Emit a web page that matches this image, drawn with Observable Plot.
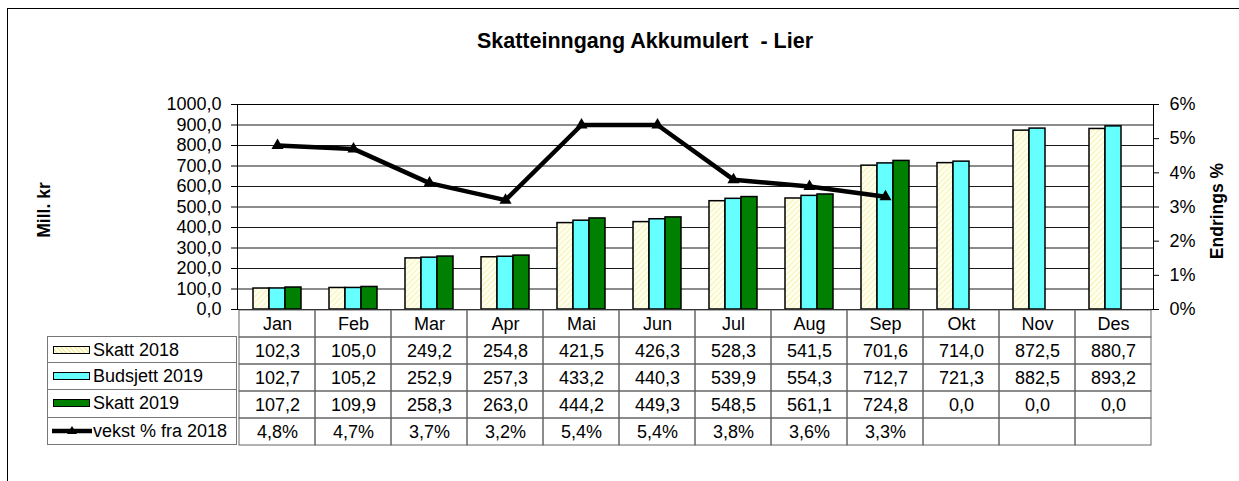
<!DOCTYPE html>
<html><head><meta charset="utf-8">
<script src="https://cdn.jsdelivr.net/npm/d3@7"></script>
<script src="https://cdn.jsdelivr.net/npm/@observablehq/plot@0.6"></script>
<style>
body{margin:0;background:#fff;font-family:"Liberation Sans",Arial,sans-serif;}
#wrap{position:relative;width:1239px;height:481px;overflow:hidden;background:#fff;}
#border{position:absolute;left:7px;top:8px;width:1260px;height:500px;border:1px solid #000;box-sizing:border-box;}
.layer{position:absolute;left:0;top:0;}
#title{position:absolute;left:0;width:1290px;top:29px;text-align:center;font-weight:bold;font-size:21.5px;white-space:pre;}
.rot{position:absolute;transform:translate(-50%,-50%) rotate(-90deg);font-weight:bold;font-size:17.5px;white-space:pre;}
#legend{position:absolute;left:47px;top:336px;width:190px;}
.lrow{position:relative;height:27.2px;box-sizing:border-box;border:1px solid #777;border-top:none;font-size:18px;}
.lrow:first-child{border-top:1px solid #777;}
.sw{position:absolute;left:5px;top:9px;width:37px;height:8px;box-sizing:border-box;border:1.5px solid #000;}
.lt{position:absolute;left:45px;top:3px;}
</style></head>
<body>
<div id="wrap">
  <div id="border"></div>
  <div id="title">Skatteinngang Akkumulert  - Lier</div>
  <div class="rot" style="left:44px;top:210px;">Mill. kr</div>
  <div class="rot" style="left:1217px;top:211px;">Endrings %</div>
  <div id="layers"></div>
  <div id="legend"></div>
</div>
<script>
// ---- data ----
const months = ["Jan","Feb","Mar","Apr","Mai","Jun","Jul","Aug","Sep","Okt","Nov","Des"];
const seriesNames = ["Skatt 2018","Budsjett 2019","Skatt 2019"];
const skatt2018 = [102.3,105.0,249.2,254.8,421.5,426.3,528.3,541.5,701.6,714.0,872.5,880.7];
const budsjett2019 = [102.7,105.2,252.9,257.3,433.2,440.3,539.9,554.3,712.7,721.3,882.5,893.2];
const skatt2019 = [107.2,109.9,258.3,263.0,444.2,449.3,548.5,561.1,724.8,0.0,0.0,0.0];
const vekstName = "vekst % fra 2018";
const vekst = [4.8,4.7,3.7,3.2,5.4,5.4,3.8,3.6,3.3];
const leftTicks = [0,100,200,300,400,500,600,700,800,900,1000];
const rightTicks = [0,1,2,3,4,5,6];
const seriesColors = ["url(#hatch18)","#66FFFF","#008000"];

// ---- helpers ----
const fmt1 = d => d.toFixed(1).replace(".", ",");
const fmtPct = d => d.toFixed(1).replace(".", ",") + "%";
const W = 1239, H = 481;
const M = {marginLeft:237, marginRight:86};
const font = {background:"transparent", fontFamily:"'Liberation Sans', Arial, sans-serif", fontSize:"18px", color:"#000", overflow:"visible"};
const seriesValues = [skatt2018, budsjett2019, skatt2019];

const barData = [];
months.forEach((m,i) => seriesNames.forEach((s,j) => {
  const v = seriesValues[j][i];
  if (v > 0) barData.push({month:m, series:s, value:v});
}));
const lineData = vekst.map((v,i) => ({month:months[i], value:v}));

const layers = document.getElementById("layers");
function add(svg){ svg.classList.add("layer"); svg.style.position="absolute"; svg.style.left="0"; svg.style.top="0"; layers.appendChild(svg); return svg; }

// Layer A: grid, frame, left axis
add(Plot.plot({
  width:W, height:H, ...M, marginTop:104, marginBottom:H-309,
  style:font,
  y:{domain:[0,1000], ticks:leftTicks, tickFormat:fmt1, tickSize:6, tickPadding:10, label:null},
  marks:[
    Plot.ruleY(leftTicks, {stroke:"#000", strokeOpacity:0.9}),
    Plot.frame({stroke:"#000"})
  ]
}));

// Layer B: bars
const svgB = add(Plot.plot({
  width:W, height:H, ...M, marginTop:104, marginBottom:H-309,
  style:font,
  fx:{domain:months, padding:0, axis:null, label:null},
  x:{domain:seriesNames, paddingInner:0, paddingOuter:0.79, axis:null},
  y:{domain:[0,1000], axis:null},
  color:{domain:seriesNames, range:seriesColors},
  marks:[
    Plot.barY(barData, {fx:"month", x:"series", y:"value", fill:"series", stroke:"#000", strokeWidth:1.5})
  ]
}));
d3.select(svgB).insert("defs", ":first-child").html(
  `<pattern id="hatch18" patternUnits="userSpaceOnUse" width="4" height="4" patternTransform="rotate(45)">
     <rect width="4" height="4" fill="#FFFFEE"/>
     <line x1="0" y1="0" x2="0" y2="4" stroke="#F7EDA8" stroke-width="1.6"/>
   </pattern>`);

// Layer C: growth line + right axis
add(Plot.plot({
  width:W, height:H, ...M, marginTop:104, marginBottom:H-309,
  style:font,
  x:{domain:months, type:"point", padding:0.5, axis:null},
  y:{domain:[0,6], ticks:rightTicks, tickFormat:d => d + "%", axis:"right", tickSize:5, tickPadding:11, label:null},
  marks:[
    Plot.line(lineData, {x:"month", y:"value", stroke:"#000", strokeWidth:4.5}),
    Plot.dot(lineData, {x:"month", y:"value", symbol:"triangle", r:4.5, fill:"#000"})
  ]
}));

// Layer D: data table
const rowKeys = ["_head", ...seriesNames, vekstName];
const cells = [];
months.forEach((m,i) => {
  cells.push({month:m, row:"_head", label:m});
  seriesNames.forEach((s,j) => cells.push({month:m, row:s, label:fmt1(seriesValues[j][i])}));
  cells.push({month:m, row:vekstName, label: i < vekst.length ? fmtPct(vekst[i]) : ""});
});
add(Plot.plot({
  width:W, height:H, ...M, marginTop:309, marginBottom:H-445,
  style:font,
  x:{domain:months, padding:0, axis:null},
  y:{domain:rowKeys, padding:0, axis:null},
  marks:[
    Plot.cell(cells, {x:"month", y:"row", fill:"none", stroke:"#666", strokeWidth:1}),
    Plot.text(cells, {x:"month", y:"row", text:"label", fontSize:18, fill:"#000"})
  ]
}));

// Legend column of the table
const legend = document.getElementById("legend");
seriesNames.forEach((s,j) => {
  const r = document.createElement("div"); r.className = "lrow";
  const sw = document.createElement("div"); sw.className = "sw";
  sw.style.background = j === 0 ? "repeating-linear-gradient(45deg,#FFFFEE 0 2px,#F7EDA8 2px 3.2px)" : seriesColors[j];
  const t = document.createElement("div"); t.className = "lt"; t.textContent = s;
  r.append(sw, t); legend.appendChild(r);
});
{
  const r = document.createElement("div"); r.className = "lrow";
  r.innerHTML = `<svg style="position:absolute;left:3px;top:7px" width="42" height="12"><line x1="1" y1="6" x2="41" y2="6" stroke="#000" stroke-width="4.5"/><path d="M21,1 L26,9 L16,9 Z" fill="#000"/></svg>`;
  const t = document.createElement("div"); t.className = "lt"; t.textContent = vekstName;
  r.appendChild(t); legend.appendChild(r);
}
</script>
</body></html>
